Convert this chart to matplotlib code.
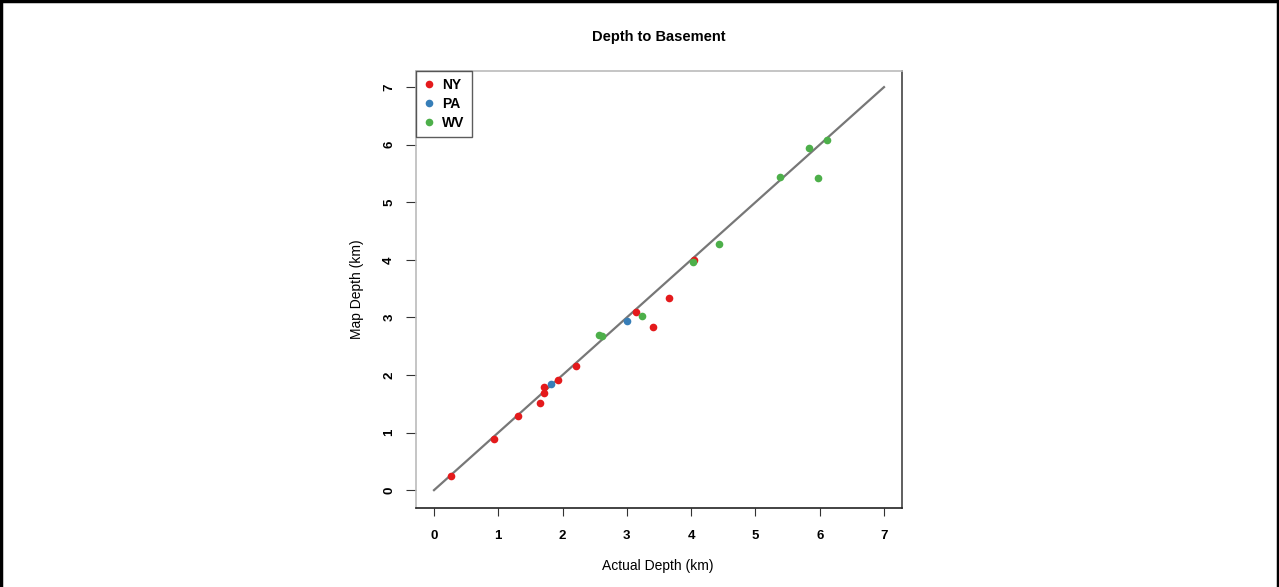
import matplotlib
matplotlib.use("Agg")
import matplotlib.pyplot as plt
from matplotlib.lines import Line2D

ny_actual = [0.26, 0.93, 1.31, 1.65, 1.71, 1.71, 1.93, 2.21, 3.14, 3.40, 3.66, 4.05]
ny_map    = [0.25, 0.89, 1.29, 1.51, 1.68, 1.79, 1.91, 2.15, 3.09, 2.84, 3.33, 3.99]
pa_actual = [1.82, 3.00]
pa_map    = [1.84, 2.94]
wv_actual = [2.57, 2.61, 3.23, 4.03, 4.44, 5.38, 5.83, 5.98, 6.12]
wv_map    = [2.69, 2.68, 3.03, 3.96, 4.27, 5.44, 5.95, 5.42, 6.09]
ticks = [0, 1, 2, 3, 4, 5, 6, 7]
groups = ["NY", "PA", "WV"]
colors = ["#E41A1C", "#377EB8", "#4DAF4A"]

plt.rcParams['font.family'] = ['Liberation Sans', 'DejaVu Sans']

fig = plt.figure(figsize=(12.79, 5.87), dpi=100)
ax = fig.add_axes([416/1279, (587-508)/587, (902-416)/1279, (508-71)/587])

ax.plot([0, 7], [0, 7], color="#777777", lw=1.6, zorder=1)
for xs, ys, c in zip([ny_actual, pa_actual, wv_actual], [ny_map, pa_map, wv_map], colors):
    ax.plot(xs, ys, 'o', color=c, ms=5.5, mec='none', zorder=2)

ax.set_xlim(-0.28, 7.28)
ax.set_ylim(-0.31, 7.28)
ax.set_xticks(ticks)
ax.set_yticks(ticks)
ax.set_xticklabels([str(t) for t in ticks], fontweight='bold', fontsize=9.5)
ax.set_yticklabels([str(t) for t in ticks], fontweight='bold', fontsize=9.5,
                   rotation=90, va='center')
ax.tick_params(axis='x', length=6, pad=10, color='#333333')
ax.tick_params(axis='y', length=7, pad=8, color='#333333')
ax.spines['left'].set_color('#bbbbbb')
ax.spines['top'].set_color('#bbbbbb')
ax.spines['right'].set_color('#444444')
ax.spines['bottom'].set_color('#222222')
for s in ax.spines.values():
    s.set_linewidth(1.2)

fig.text(659/1279, 1-37/587, "Depth to Basement", ha='center', va='center',
         fontsize=10.5, fontweight='bold')
fig.text(658/1279, 1-566/587, "Actual Depth (km)", ha='center', va='center', fontsize=10)
fig.text(357/1279, 1-289/587, "Map Depth (km)", ha='center', va='center',
         fontsize=10, rotation=90)

handles = [Line2D([], [], marker='o', ls='none', color=c, ms=5.5, mec='none') for c in colors]
leg = ax.legend(handles, groups, loc='upper left', bbox_to_anchor=(0, 1),
                borderaxespad=0, frameon=True, fancybox=False, handlelength=0.8,
                handletextpad=0.6, borderpad=0.5, labelspacing=0.35,
                prop={'weight': 'bold', 'size': 10})
leg.get_frame().set_edgecolor('#333333')
leg.get_frame().set_linewidth(1.0)

# outer frame: left, top, right only
for xs, ys in [([0.001, 0.001], [0, 1]), ([0, 1], [0.998, 0.998]), ([0.999, 0.999], [0, 1])]:
    fig.add_artist(Line2D(xs, ys, transform=fig.transFigure, color='black', lw=2.5))

fig.savefig("out.png", dpi=100)
